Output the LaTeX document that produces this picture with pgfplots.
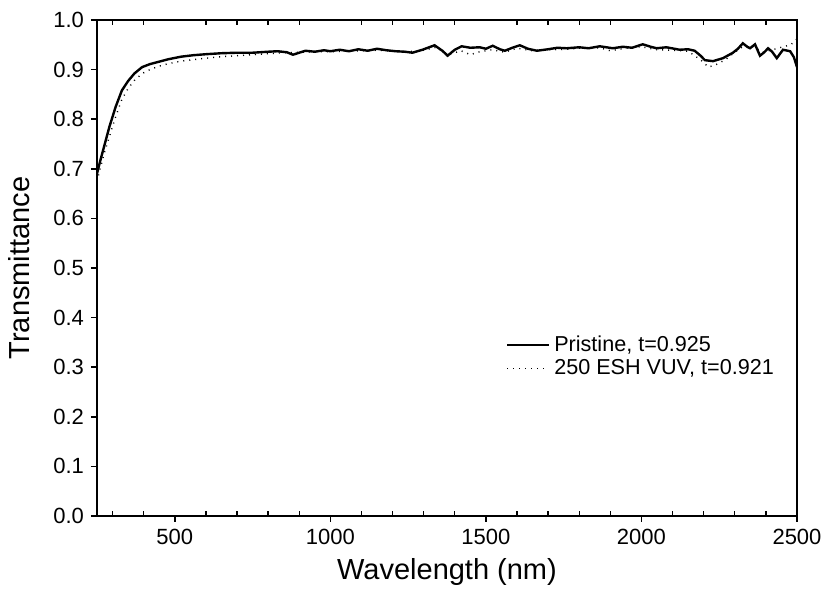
\documentclass[border=0pt]{standalone}
\usepackage{fontspec}
\setmainfont{Liberation Sans}
\usepackage{pgfplots}
\pgfplotsset{compat=1.18}
\usetikzlibrary{calc}

% pristine sample
\pgfplotstableread{
wl T
250 0.690
260 0.715
275 0.750
290 0.785
310 0.825
330 0.858
350 0.877
370 0.892
395 0.905
420 0.911
450 0.916
480 0.921
520 0.926
560 0.929
600 0.931
650 0.933
700 0.934
750 0.934
800 0.936
830 0.937
860 0.935
880 0.930
900 0.934
920 0.938
950 0.936
980 0.939
1000 0.937
1030 0.940
1060 0.937
1090 0.941
1120 0.938
1150 0.942
1180 0.939
1210 0.937
1240 0.936
1264 0.934
1296 0.940
1335 0.949
1360 0.938
1377 0.928
1400 0.940
1422 0.947
1450 0.944
1480 0.945
1500 0.942
1522 0.948
1545 0.941
1561 0.938
1585 0.944
1609 0.949
1635 0.942
1664 0.938
1700 0.941
1730 0.944
1760 0.943
1800 0.945
1830 0.943
1866 0.947
1908 0.943
1940 0.946
1970 0.944
2004 0.951
2030 0.946
2049 0.943
2080 0.945
2123 0.940
2150 0.941
2171 0.938
2190 0.928
2204 0.919
2230 0.917
2262 0.923
2294 0.934
2310 0.942
2326 0.953
2340 0.946
2349 0.943
2365 0.951
2381 0.928
2395 0.935
2407 0.943
2420 0.936
2435 0.923
2455 0.940
2478 0.937
2490 0.925
2500 0.905
}\pristine

% after 250 ESH VUV
\pgfplotstableread{
wl T
250 0.675
260 0.700
275 0.735
290 0.765
310 0.805
330 0.840
350 0.862
370 0.878
395 0.892
420 0.900
450 0.907
480 0.912
520 0.917
560 0.920
600 0.923
650 0.926
700 0.928
750 0.930
800 0.932
850 0.934
900 0.935
950 0.936
1000 0.936
1050 0.937
1100 0.938
1150 0.939
1200 0.938
1250 0.936
1300 0.939
1340 0.945
1380 0.930
1420 0.938
1450 0.930
1480 0.936
1520 0.940
1560 0.935
1600 0.943
1650 0.938
1700 0.940
1760 0.941
1800 0.943
1866 0.944
1900 0.938
1950 0.943
2000 0.946
2050 0.940
2100 0.939
2150 0.937
2190 0.920
2215 0.905
2240 0.910
2270 0.920
2300 0.935
2330 0.948
2360 0.946
2390 0.935
2420 0.940
2450 0.945
2480 0.950
2500 0.962
}\vuv

\begin{document}
\begin{tikzpicture}
\begin{axis}[
    name=main,
    scale only axis,
    width=350pt, height=248pt,
    xmin=250, xmax=2500,
    ymin=0, ymax=1,
    xtick={500,1000,1500,2000,2500},
    ytick={0,0.1,...,1.0},
    xticklabel style={/pgf/number format/1000 sep={}},
    yticklabel style={/pgf/number format/.cd, fixed, fixed zerofill, precision=1},
    /pgf/number format/assume math mode=true,
    tick align=outside,
    xtick pos=bottom, ytick pos=left,
    major tick length=3pt,
    tick style={black, line width=0.8pt},
    axis line style={line width=0.9pt},
    ticklabel style={font=\fontsize{11}{13}\selectfont},
    xlabel={Wavelength (nm)},
    ylabel={Transmittance},
    label style={font=\fontsize{14.5}{16}\selectfont},
    ylabel style={yshift=5pt},
    legend style={draw=none, fill=none, at={(0.575,0.38)}, anchor=north west,
        font=\fontsize{10.8}{12}\selectfont, row sep=-1.5pt},
    legend cell align=left,
    legend image code/.code={\draw[#1] (0pt,0pt) -- (21pt,0pt);},
]
\addplot[black, line width=1.2pt] table[x=wl, y=T] {\pristine};
\addlegendentry{Pristine, t=0.925}
\addplot[black, line width=0.7pt, dash pattern=on 0.5pt off 2.5pt] table[x=wl, y=T] {\vuv};
\addlegendentry{250 ESH VUV, t=0.921}
\end{axis}
% minor ticks, pointing in, top and bottom
\begin{axis}[
    scale only axis,
    width=350pt, height=248pt,
    xmin=250, xmax=2500,
    ymin=0, ymax=1,
    axis line style={draw=none},
    xtick={300,400,600,700,800,900,1100,1200,1300,1400,1600,1700,1800,1900,2100,2200,2300,2400},
    xticklabels={},
    ytick=\empty,
    tick align=inside,
    major tick length=2.5pt,
    tick style={black, line width=0.7pt},
]
\end{axis}
\pgfresetboundingbox
\path[use as bounding box] ($(main.south west)+(-48.5pt,-41pt)$) rectangle ($(main.north east)+(17.5pt,10pt)$);
\end{tikzpicture}
\end{document}
